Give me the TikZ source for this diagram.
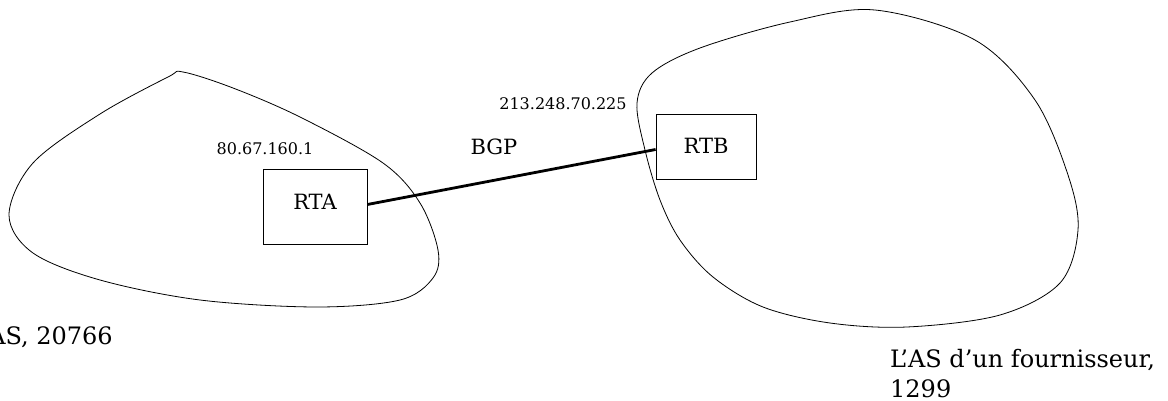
\documentclass[tikz,border=0pt]{standalone}
\usepackage{fontspec}
\setmainfont{DejaVu Serif}
\begin{document}
\begin{tikzpicture}[x=1pt,y=-1pt,
  blob/.style={draw, line width=0.8pt, smooth cycle, tension=0.55},
  router/.style={draw, line width=0.8pt, inner sep=0pt, font=\fontsize{21}{24}\selectfont},
  bigtxt/.style={font=\fontsize{24}{30}\selectfont, inner sep=0pt},
  midtxt/.style={font=\fontsize{21}{24}\selectfont, inner sep=0pt},
  smalltxt/.style={font=\fontsize{16}{20}\selectfont, inner sep=0pt},
  link/.style={draw, line width=2.8pt}]
\useasboundingbox (0,0) rectangle (1168,401);
% left AS
\draw[blob] plot coordinates {(183,72) (233,88) (300,117) (383,163) (420,203) (438,250) (433,278) (400,300) (317,307) (200,300) (100,280) (33,253) (9,215) (33,163) (100,114) (168,77)};
% right AS
\draw[blob] plot coordinates {(875,10) (975,40) (1035,100) (1068,175) (1078,230) (1060,283) (1000,315) (907,327) (830,323) (763,307) (713,277) (680,240) (660,200) (645,150) (637,103) (652,73) (700,48) (790,22)};
\node[router, minimum width=104pt, minimum height=75pt, text height=15pt, text depth=10pt] (rta) at (315,206.5) {RTA};
\node[router, minimum width=100pt, minimum height=65pt, text height=15pt, text depth=0pt] (rtb) at (706,146.5) {RTB};
\path[link] ([yshift=2pt]rta.east) -- ([yshift=-3pt]rtb.west);
\node[smalltxt, anchor=base] (ipa) at (265,155) {80.67.160.1};
\node[smalltxt, anchor=base] (ipb) at (563,110) {213.248.70.225};
\node[midtxt, anchor=base] (bgp) at (494,155) {BGP};
\node[bigtxt, anchor=base east] (asa) at (113,344) {L’AS, 20766};
\node[bigtxt, anchor=north west, align=left] (asb) at (890,349) {L’AS d’un fournisseur,\\1299};
\end{tikzpicture}
\end{document}
